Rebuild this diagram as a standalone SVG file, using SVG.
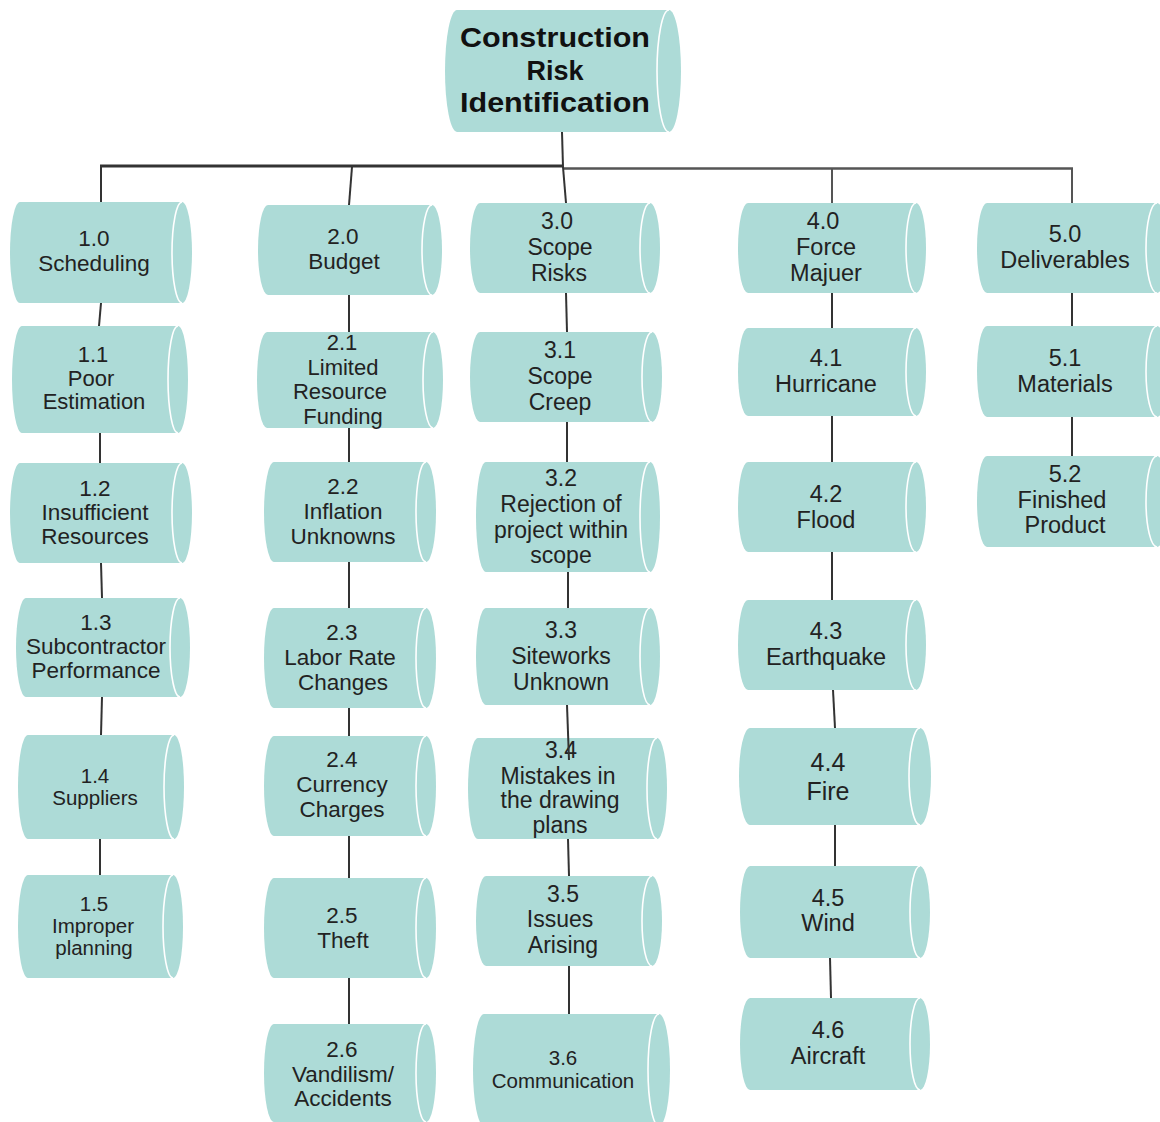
<svg xmlns="http://www.w3.org/2000/svg" width="1160" height="1122" viewBox="0 0 1160 1122">
  <style>
    .body { fill: #addbd7; stroke: none; }
    .cap { fill: none; stroke: #ffffff; stroke-width: 1.6; }
    .lbl { font-family: "Liberation Sans", Arial, sans-serif; fill: #222222; text-anchor: middle; }
    .title { font-family: "Liberation Sans", Arial, sans-serif; font-weight: bold; fill: #111111; text-anchor: middle; font-size: 27px; }
    .link { stroke: #333333; stroke-width: 2; fill: none; }
  </style>
  <rect width="1160" height="1122" fill="#ffffff"/>

  <!-- root -->
  <g id="root">
    <path class="body" d="M457,10 H669 A12,61 0 0 1 669,132 H457 A12,61 0 0 1 457,10 Z"/>
    <path class="cap" d="M669,10 A12,61 0 0 0 669,132"/>
    <text class="title"><tspan x="555" y="47" textLength="190" lengthAdjust="spacingAndGlyphs">Construction</tspan><tspan x="555" y="80">Risk</tspan><tspan x="555" y="112" textLength="190" lengthAdjust="spacingAndGlyphs">Identification</tspan></text>
  </g>

  <!-- column 1 : scheduling -->
  <g id="n1-0">
    <path class="body" d="M20,202 H182 A10,50.5 0 0 1 182,303 H20 A10,50.5 0 0 1 20,202 Z"/>
    <path class="cap" d="M182,202 A10,50.5 0 0 0 182,303"/>
    <text class="lbl" font-size="22.5"><tspan x="94" y="246">1.0</tspan><tspan x="94" y="271">Scheduling</tspan></text>
  </g>
  <g id="n1-1">
    <path class="body" d="M22,326 H178 A10,53.5 0 0 1 178,433 H22 A10,53.5 0 0 1 22,326 Z"/>
    <path class="cap" d="M178,326 A10,53.5 0 0 0 178,433"/>
    <text class="lbl" font-size="22"><tspan x="93" y="362">1.1</tspan><tspan x="91" y="386">Poor</tspan><tspan x="94" y="409">Estimation</tspan></text>
  </g>
  <g id="n1-2">
    <path class="body" d="M20,463 H182 A10,50 0 0 1 182,563 H20 A10,50 0 0 1 20,463 Z"/>
    <path class="cap" d="M182,463 A10,50 0 0 0 182,563"/>
    <text class="lbl" font-size="22.5"><tspan x="95" y="496">1.2</tspan><tspan x="95" y="520">Insufficient</tspan><tspan x="95" y="544">Resources</tspan></text>
  </g>
  <g id="n1-3">
    <path class="body" d="M26,598 H180 A10,49.5 0 0 1 180,697 H26 A10,49.5 0 0 1 26,598 Z"/>
    <path class="cap" d="M180,598 A10,49.5 0 0 0 180,697"/>
    <text class="lbl" font-size="22.5"><tspan x="96" y="630">1.3</tspan><tspan x="96" y="654">Subcontractor</tspan><tspan x="96" y="678">Performance</tspan></text>
  </g>
  <g id="n1-4">
    <path class="body" d="M28,735 H174 A10,52 0 0 1 174,839 H28 A10,52 0 0 1 28,735 Z"/>
    <path class="cap" d="M174,735 A10,52 0 0 0 174,839"/>
    <text class="lbl" font-size="20.5"><tspan x="95" y="783">1.4</tspan><tspan x="95" y="805">Suppliers</tspan></text>
  </g>
  <g id="n1-5">
    <path class="body" d="M28,875 H173 A10,51.5 0 0 1 173,978 H28 A10,51.5 0 0 1 28,875 Z"/>
    <path class="cap" d="M173,875 A10,51.5 0 0 0 173,978"/>
    <text class="lbl" font-size="20.5"><tspan x="94" y="911">1.5</tspan><tspan x="93" y="933">Improper</tspan><tspan x="94" y="955">planning</tspan></text>
  </g>

  <!-- column 2 : budget -->
  <g id="n2-0">
    <path class="body" d="M268,205 H432 A10,45 0 0 1 432,295 H268 A10,45 0 0 1 268,205 Z"/>
    <path class="cap" d="M432,205 A10,45 0 0 0 432,295"/>
    <text class="lbl" font-size="22.5"><tspan x="343" y="244">2.0</tspan><tspan x="344" y="269">Budget</tspan></text>
  </g>
  <g id="n2-1">
    <path class="body" d="M267,332 H433 A10,48 0 0 1 433,428 H267 A10,48 0 0 1 267,332 Z"/>
    <path class="cap" d="M433,332 A10,48 0 0 0 433,428"/>
    <text class="lbl" font-size="22"><tspan x="342" y="350">2.1</tspan><tspan x="343" y="375">Limited</tspan><tspan x="340" y="399">Resource</tspan><tspan x="343" y="424">Funding</tspan></text>
  </g>
  <g id="n2-2">
    <path class="body" d="M274,462 H426 A10,50 0 0 1 426,562 H274 A10,50 0 0 1 274,462 Z"/>
    <path class="cap" d="M426,462 A10,50 0 0 0 426,562"/>
    <text class="lbl" font-size="22.5"><tspan x="343" y="494">2.2</tspan><tspan x="343" y="519">Inflation</tspan><tspan x="343" y="544">Unknowns</tspan></text>
  </g>
  <g id="n2-3">
    <path class="body" d="M274,608 H426 A10,50 0 0 1 426,708 H274 A10,50 0 0 1 274,608 Z"/>
    <path class="cap" d="M426,608 A10,50 0 0 0 426,708"/>
    <text class="lbl" font-size="22.5"><tspan x="342" y="640">2.3</tspan><tspan x="340" y="665">Labor Rate</tspan><tspan x="343" y="690">Changes</tspan></text>
  </g>
  <g id="n2-4">
    <path class="body" d="M274,736 H426 A10,50 0 0 1 426,836 H274 A10,50 0 0 1 274,736 Z"/>
    <path class="cap" d="M426,736 A10,50 0 0 0 426,836"/>
    <text class="lbl" font-size="22.5"><tspan x="342" y="767">2.4</tspan><tspan x="342" y="792">Currency</tspan><tspan x="342" y="817">Charges</tspan></text>
  </g>
  <g id="n2-5">
    <path class="body" d="M274,878 H426 A10,50 0 0 1 426,978 H274 A10,50 0 0 1 274,878 Z"/>
    <path class="cap" d="M426,878 A10,50 0 0 0 426,978"/>
    <text class="lbl" font-size="22.5"><tspan x="342" y="923">2.5</tspan><tspan x="343" y="948">Theft</tspan></text>
  </g>
  <g id="n2-6">
    <path class="body" d="M274,1024 H426 A10,49 0 0 1 426,1122 H274 A10,49 0 0 1 274,1024 Z"/>
    <path class="cap" d="M426,1024 A10,49 0 0 0 426,1122"/>
    <text class="lbl" font-size="22.5"><tspan x="342" y="1057">2.6</tspan><tspan x="343" y="1082">Vandilism/</tspan><tspan x="343" y="1106">Accidents</tspan></text>
  </g>

  <!-- column 3 : scope -->
  <g id="n3-0">
    <path class="body" d="M480,203 H650 A10,45 0 0 1 650,293 H480 A10,45 0 0 1 480,203 Z"/>
    <path class="cap" d="M650,203 A10,45 0 0 0 650,293"/>
    <text class="lbl" font-size="23"><tspan x="557" y="229">3.0</tspan><tspan x="560" y="255">Scope</tspan><tspan x="559" y="281">Risks</tspan></text>
  </g>
  <g id="n3-1">
    <path class="body" d="M480,332 H652 A10,45 0 0 1 652,422 H480 A10,45 0 0 1 480,332 Z"/>
    <path class="cap" d="M652,332 A10,45 0 0 0 652,422"/>
    <text class="lbl" font-size="23"><tspan x="560" y="358">3.1</tspan><tspan x="560" y="384">Scope</tspan><tspan x="560" y="410">Creep</tspan></text>
  </g>
  <g id="n3-2">
    <path class="body" d="M486,462 H650 A10,55 0 0 1 650,572 H486 A10,55 0 0 1 486,462 Z"/>
    <path class="cap" d="M650,462 A10,55 0 0 0 650,572"/>
    <text class="lbl" font-size="23"><tspan x="561" y="486">3.2</tspan><tspan x="561" y="512">Rejection of</tspan><tspan x="561" y="538">project within</tspan><tspan x="561" y="563">scope</tspan></text>
  </g>
  <g id="n3-3">
    <path class="body" d="M486,608 H650 A10,48.5 0 0 1 650,705 H486 A10,48.5 0 0 1 486,608 Z"/>
    <path class="cap" d="M650,608 A10,48.5 0 0 0 650,705"/>
    <text class="lbl" font-size="23"><tspan x="561" y="638">3.3</tspan><tspan x="561" y="664">Siteworks</tspan><tspan x="561" y="690">Unknown</tspan></text>
  </g>
  <g id="n3-4">
    <path class="body" d="M478,738 H657 A10,50.5 0 0 1 657,839 H478 A10,50.5 0 0 1 478,738 Z"/>
    <path class="cap" d="M657,738 A10,50.5 0 0 0 657,839"/>
    <text class="lbl" font-size="23"><tspan x="561" y="758">3.4</tspan><tspan x="558" y="784">Mistakes in</tspan><tspan x="560" y="808">the drawing</tspan><tspan x="560" y="833">plans</tspan></text>
  </g>
  <g id="n3-5">
    <path class="body" d="M486,876 H652 A10,45 0 0 1 652,966 H486 A10,45 0 0 1 486,876 Z"/>
    <path class="cap" d="M652,876 A10,45 0 0 0 652,966"/>
    <text class="lbl" font-size="23"><tspan x="563" y="902">3.5</tspan><tspan x="560" y="927">Issues</tspan><tspan x="563" y="953">Arising</tspan></text>
  </g>
  <g id="n3-6">
    <path class="body" d="M484,1014 H659 A11,56 0 0 1 659,1126 H484 A11,56 0 0 1 484,1014 Z"/>
    <path class="cap" d="M659,1014 A11,56 0 0 0 659,1126"/>
    <text class="lbl" font-size="20.5"><tspan x="563" y="1065">3.6</tspan><tspan x="563" y="1088">Communication</tspan></text>
  </g>

  <!-- column 4 : force majeure -->
  <g id="n4-0">
    <path class="body" d="M748,203 H916 A10,45 0 0 1 916,293 H748 A10,45 0 0 1 748,203 Z"/>
    <path class="cap" d="M916,203 A10,45 0 0 0 916,293"/>
    <text class="lbl" font-size="23.5"><tspan x="823" y="229">4.0</tspan><tspan x="826" y="255">Force</tspan><tspan x="826" y="281">Majuer</tspan></text>
  </g>
  <g id="n4-1">
    <path class="body" d="M748,328 H916 A10,44 0 0 1 916,416 H748 A10,44 0 0 1 748,328 Z"/>
    <path class="cap" d="M916,328 A10,44 0 0 0 916,416"/>
    <text class="lbl" font-size="23.5"><tspan x="826" y="366">4.1</tspan><tspan x="826" y="392">Hurricane</tspan></text>
  </g>
  <g id="n4-2">
    <path class="body" d="M748,462 H916 A10,45 0 0 1 916,552 H748 A10,45 0 0 1 748,462 Z"/>
    <path class="cap" d="M916,462 A10,45 0 0 0 916,552"/>
    <text class="lbl" font-size="23.5"><tspan x="826" y="502">4.2</tspan><tspan x="826" y="528">Flood</tspan></text>
  </g>
  <g id="n4-3">
    <path class="body" d="M748,600 H916 A10,45 0 0 1 916,690 H748 A10,45 0 0 1 748,600 Z"/>
    <path class="cap" d="M916,600 A10,45 0 0 0 916,690"/>
    <text class="lbl" font-size="23.5"><tspan x="826" y="639">4.3</tspan><tspan x="826" y="665">Earthquake</tspan></text>
  </g>
  <g id="n4-4">
    <path class="body" d="M750,728 H920 A11,48.5 0 0 1 920,825 H750 A11,48.5 0 0 1 750,728 Z"/>
    <path class="cap" d="M920,728 A11,48.5 0 0 0 920,825"/>
    <text class="lbl" font-size="25"><tspan x="828" y="771">4.4</tspan><tspan x="828" y="800">Fire</tspan></text>
  </g>
  <g id="n4-5">
    <path class="body" d="M750,866 H920 A10,46 0 0 1 920,958 H750 A10,46 0 0 1 750,866 Z"/>
    <path class="cap" d="M920,866 A10,46 0 0 0 920,958"/>
    <text class="lbl" font-size="23.5"><tspan x="828" y="906">4.5</tspan><tspan x="828" y="931">Wind</tspan></text>
  </g>
  <g id="n4-6">
    <path class="body" d="M750,998 H920 A10,46 0 0 1 920,1090 H750 A10,46 0 0 1 750,998 Z"/>
    <path class="cap" d="M920,998 A10,46 0 0 0 920,1090"/>
    <text class="lbl" font-size="23.5"><tspan x="828" y="1038">4.6</tspan><tspan x="828" y="1064">Aircraft</tspan></text>
  </g>

  <!-- column 5 : deliverables -->
  <g id="n5-0">
    <path class="body" d="M987,203 H1157 A11,45 0 0 1 1157,293 H987 A10,45 0 0 1 987,203 Z"/>
    <path class="cap" d="M1157,203 A11,45 0 0 0 1157,293"/>
    <text class="lbl" font-size="23.5"><tspan x="1065" y="242">5.0</tspan><tspan x="1065" y="268">Deliverables</tspan></text>
  </g>
  <g id="n5-1">
    <path class="body" d="M987,326 H1157 A11,45.5 0 0 1 1157,417 H987 A10,45.5 0 0 1 987,326 Z"/>
    <path class="cap" d="M1157,326 A11,45.5 0 0 0 1157,417"/>
    <text class="lbl" font-size="23.5"><tspan x="1065" y="366">5.1</tspan><tspan x="1065" y="392">Materials</tspan></text>
  </g>
  <g id="n5-2">
    <path class="body" d="M987,456 H1157 A11,45.5 0 0 1 1157,547 H987 A10,45.5 0 0 1 987,456 Z"/>
    <path class="cap" d="M1157,456 A11,45.5 0 0 0 1157,547"/>
    <text class="lbl" font-size="23.5"><tspan x="1065" y="482">5.2</tspan><tspan x="1062" y="508">Finished</tspan><tspan x="1065" y="533">Product</tspan></text>
  </g>

  <!-- tree connectors, drawn last so the 3.3 to 3.4 link runs over its box -->
  <g id="connectors" class="link">
    <line x1="562" y1="132" x2="563" y2="167"/>
    <line x1="100" y1="166" x2="563" y2="166" stroke-width="3"/>
    <line x1="563" y1="168.5" x2="1073" y2="168.5" stroke="#555555" stroke-width="2.5"/>
    <line x1="101" y1="166" x2="101" y2="202"/>
    <line x1="352" y1="167" x2="349" y2="205"/>
    <line x1="563" y1="167" x2="566" y2="203"/>
    <line x1="832" y1="169" x2="832" y2="203" stroke="#555555"/>
    <line x1="1072" y1="168" x2="1072" y2="203" stroke="#555555"/>

    <line x1="101" y1="303" x2="99" y2="326"/>
    <line x1="100" y1="433" x2="100" y2="463"/>
    <line x1="101" y1="563" x2="102" y2="598"/>
    <line x1="102" y1="697" x2="101" y2="735"/>
    <line x1="100" y1="839" x2="100" y2="875"/>

    <line x1="349" y1="295" x2="349" y2="332"/>
    <line x1="349" y1="428" x2="349" y2="462"/>
    <line x1="349" y1="562" x2="349" y2="608"/>
    <line x1="349" y1="708" x2="349" y2="736"/>
    <line x1="349" y1="836" x2="349" y2="878"/>
    <line x1="349" y1="978" x2="349" y2="1024"/>

    <line x1="566" y1="293" x2="567" y2="332"/>
    <line x1="567" y1="422" x2="567" y2="462"/>
    <line x1="568" y1="572" x2="568" y2="608"/>
    <line x1="567" y1="705" x2="569" y2="760"/>
    <line x1="568" y1="839" x2="569" y2="876"/>
    <line x1="569" y1="966" x2="569" y2="1014"/>

    <line x1="832" y1="293" x2="832" y2="328"/>
    <line x1="832" y1="416" x2="832" y2="462"/>
    <line x1="832" y1="552" x2="832" y2="600"/>
    <line x1="833" y1="690" x2="835" y2="728"/>
    <line x1="835" y1="825" x2="835" y2="866"/>
    <line x1="830" y1="958" x2="831" y2="998"/>

    <line x1="1072" y1="293" x2="1072" y2="326"/>
    <line x1="1072" y1="417" x2="1072" y2="456"/>
  </g>
</svg>
